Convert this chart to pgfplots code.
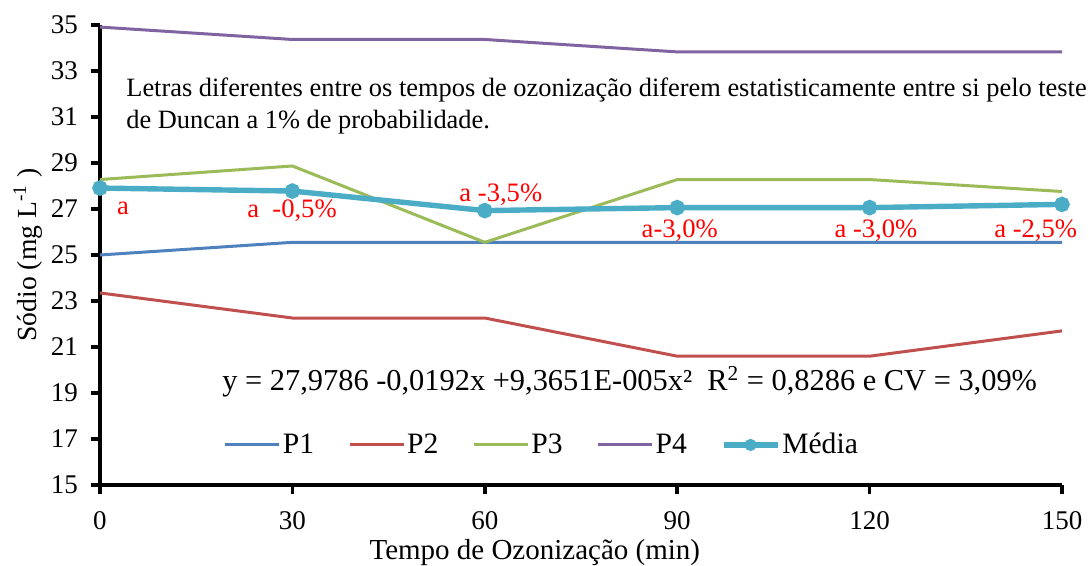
\documentclass[border=0pt]{standalone}
\usepackage{pgfplots}
\pgfplotsset{compat=1.18}
\usepackage{fontspec}
\setmainfont{Liberation Serif}
\definecolor{cP1}{RGB}{79,129,189}
\definecolor{cP2}{RGB}{192,80,77}
\definecolor{cP3}{RGB}{155,187,89}
\definecolor{cP4}{RGB}{128,100,162}
\definecolor{cM}{RGB}{75,172,198}
\pgfplotsset{
  mylegimg/.style={legend image code/.code={\draw[##1, mark repeat=2, mark phase=2] plot coordinates {(0pt,0pt) (13.5pt,0pt) (27pt,0pt)};}}
}
\begin{document}
\begin{tikzpicture}
\useasboundingbox (-50pt,-40.5pt) rectangle (494.5pt,242.5pt);
\begin{axis}[
  scale only axis,
  width=481pt, height=230pt,
  xmin=0, xmax=150, ymin=15, ymax=35,
  xtick={0,30,60,90,120,150},
  ytick={15,17,19,21,23,25,27,29,31,33,35},
  axis x line*=bottom, axis y line*=left,
  axis line style={-, line width=2pt, black},
  tick style={line width=1.8pt, black},
  major tick length=4.5pt,
  tick align=outside,
  /pgf/number format/assume math mode=true,
  ticklabel style={font=\fontsize{13.5}{15}\selectfont},
  xticklabel style={inner ysep=0.5pt, yshift=-8pt},
  yticklabel style={xshift=-3pt},
  xlabel={Tempo de Ozonização (min)},
  ylabel={Sódio (mg L\textsuperscript{-1} )},
  xlabel style={font=\fontsize{14.5}{16}\selectfont, inner sep=0pt, at={(axis description cs:0.452,-0.162)}, anchor=base},
  ylabel style={font=\fontsize{13.8}{15}\selectfont, at={(axis description cs:-0.0748,0.5)}, anchor=center},
  legend style={draw=none, fill=none, legend columns=-1,
    at={(axis cs:68.9,16.74)}, anchor=center,
    font=\fontsize{14.8}{16}\selectfont,
    nodes={inner xsep=1pt}},
  /tikz/every even column/.append style={column sep=16pt},
  mylegimg,
  clip=false,
]
\addplot[cP1, line width=1.5pt, no markers] coordinates {(0,25.0) (30,25.55) (60,25.55) (90,25.55) (120,25.55) (150,25.55)};
\addlegendentry{P1}
\addplot[cP2, line width=1.5pt, no markers] coordinates {(0,23.35) (30,22.26) (60,22.26) (90,20.6) (120,20.6) (150,21.7)};
\addlegendentry{P2}
\addplot[cP3, line width=1.5pt, no markers] coordinates {(0,28.28) (30,28.87) (60,25.55) (90,28.28) (120,28.28) (150,27.76)};
\addlegendentry{P3}
\addplot[cP4, line width=1.5pt, no markers] coordinates {(0,34.91) (30,34.37) (60,34.37) (90,33.83) (120,33.83) (150,33.83)};
\addlegendentry{P4}
\addplot[cM, line width=2.7pt, mark=*, mark size=2.5pt, mark options={solid}, legend image post style={mark size=1.6pt}] coordinates {(0,27.91) (30,27.78) (60,26.93) (90,27.06) (120,27.06) (150,27.2)};
\addlegendentry{Média}
\node[anchor=north west, inner sep=0pt, align=left, font=\fontsize{13.2}{16}\selectfont] at (axis cs:4.05,32.7)
  {Letras diferentes entre os tempos de ozonização diferem estatisticamente entre si pelo teste\\de Duncan a 1\% de probabilidade.};
\begin{scope}[every node/.style={red, font=\fontsize{13.3}{15}\selectfont, anchor=base, inner sep=0pt}]
\node at (axis cs:3.59,26.75) {a};
\node at (axis cs:29.94,26.61) {a\ \ -0,5\%};
\node at (axis cs:62.5,27.32) {a -3,5\%};
\node at (axis cs:90.4,25.74) {a-3,0\%};
\node at (axis cs:121.0,25.74) {a -3,0\%};
\node at (axis cs:145.9,25.74) {a -2,5\%};
\end{scope}
\node[anchor=base, inner sep=0pt, font=\fontsize{15.2}{17}\selectfont] at (axis cs:82.6,19.09)
  {y = 27,9786 -0,0192x +9,3651E-005x²\ \ R\textsuperscript{2} = 0,8286 e CV = 3,09\%};
\end{axis}
\end{tikzpicture}
\end{document}
